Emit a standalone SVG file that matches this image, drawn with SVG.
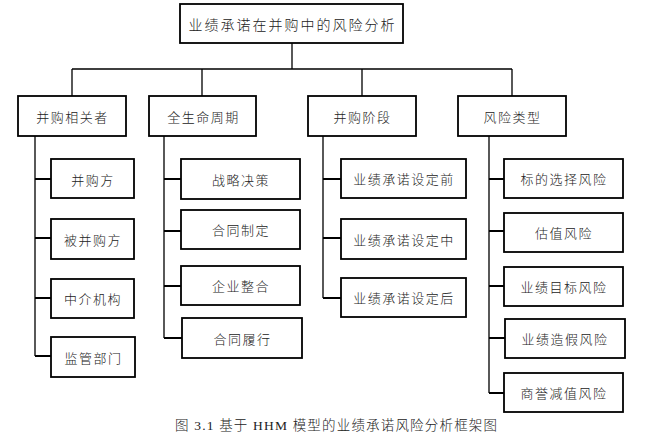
<svg xmlns="http://www.w3.org/2000/svg" width="652" height="440" viewBox="0 0 652 440">
<style>
.box{fill:#fff;stroke:#000;stroke-width:1.8}
.t{font-family:"Noto Sans CJK SC","Liberation Sans",sans-serif;font-size:13px;font-weight:300;letter-spacing:1.5px;fill:#222;text-anchor:middle;dominant-baseline:central}
.tt{font-size:14px;letter-spacing:2px}
.ln{stroke:#000;stroke-width:1.3;fill:none}
.tk{stroke:#000;stroke-width:2;fill:none}
.cap{font-family:"Liberation Serif","Noto Sans CJK SC",serif;font-size:13.5px;font-weight:300;fill:#222}
</style>
<g id="connectors">
<path class="ln" d="M292 43V69M72 69H512M72 69V96M202 69V96M362 69V96M512 69V96"/>
<path class="ln" d="M35 136V356M164 136V338M323 136V298M489 136V393"/>
<path class="tk" d="M35 179H51M35 238H51M35 298H51M35 356H51"/>
<path class="tk" d="M164 179H181M164 231H181M164 286H181M164 338H182"/>
<path class="tk" d="M323 179H341M323 238H341M323 298H341"/>
<path class="tk" d="M489 179H504M489 231H504M489 286H504M489 338H505M489 393H504"/>
</g>
<g id="root"><rect class="box" x="180" y="4" width="223" height="39"/><text class="t tt" x="292.5" y="24">业绩承诺在并购中的风险分析</text></g>
<g id="n1"><rect class="box" x="18" y="96" width="108" height="40"/><text class="t" x="72.5" y="116">并购相关者</text></g>
<g id="n2"><rect class="box" x="149" y="96" width="107" height="40"/><text class="t" x="203.5" y="116">全生命周期</text></g>
<g id="n3"><rect class="box" x="308" y="96" width="108" height="40"/><text class="t" x="362.5" y="116">并购阶段</text></g>
<g id="n4"><rect class="box" x="458" y="96" width="108" height="40"/><text class="t" x="512.5" y="116">风险类型</text></g>
<g id="n1a"><rect class="box" x="51" y="159" width="83" height="39"/><text class="t" x="93" y="179">并购方</text></g>
<g id="n1b"><rect class="box" x="51" y="219" width="83" height="40"/><text class="t" x="93" y="239">被并购方</text></g>
<g id="n1c"><rect class="box" x="51" y="279" width="83" height="39"/><text class="t" x="93" y="298.5">中介机构</text></g>
<g id="n1d"><rect class="box" x="51" y="337" width="84" height="40"/><text class="t" x="93.5" y="357">监管部门</text></g>
<g id="n2a"><rect class="box" x="181" y="159" width="119" height="40"/><text class="t" x="241" y="179">战略决策</text></g>
<g id="n2b"><rect class="box" x="181" y="210" width="119" height="39"/><text class="t" x="241" y="229.5">合同制定</text></g>
<g id="n2c"><rect class="box" x="181" y="266" width="119" height="39"/><text class="t" x="241" y="285.5">企业整合</text></g>
<g id="n2d"><rect class="box" x="182" y="318" width="120" height="40"/><text class="t" x="242.5" y="338">合同履行</text></g>
<g id="n3a"><rect class="box" x="341" y="159" width="125" height="39"/><text class="t" x="404" y="178.5">业绩承诺设定前</text></g>
<g id="n3b"><rect class="box" x="341" y="219" width="125" height="40"/><text class="t" x="404" y="239">业绩承诺设定中</text></g>
<g id="n3c"><rect class="box" x="341" y="278" width="125" height="39"/><text class="t" x="404" y="297.5">业绩承诺设定后</text></g>
<g id="n4a"><rect class="box" x="504" y="159" width="119" height="39"/><text class="t" x="564" y="178.5">标的选择风险</text></g>
<g id="n4b"><rect class="box" x="504" y="213" width="119" height="39"/><text class="t" x="564" y="232.5">估值风险</text></g>
<g id="n4c"><rect class="box" x="504" y="267" width="119" height="39"/><text class="t" x="564" y="286.5">业绩目标风险</text></g>
<g id="n4d"><rect class="box" x="505" y="319" width="120" height="39"/><text class="t" x="565" y="338.5">业绩造假风险</text></g>
<g id="n4e"><rect class="box" x="504" y="373" width="119" height="39"/><text class="t" x="564" y="392.5">商誉减值风险</text></g>
<text class="cap" x="175" y="430" textLength="322" lengthAdjust="spacing">图 3.1  基于 HHM 模型的业绩承诺风险分析框架图</text>
</svg>
